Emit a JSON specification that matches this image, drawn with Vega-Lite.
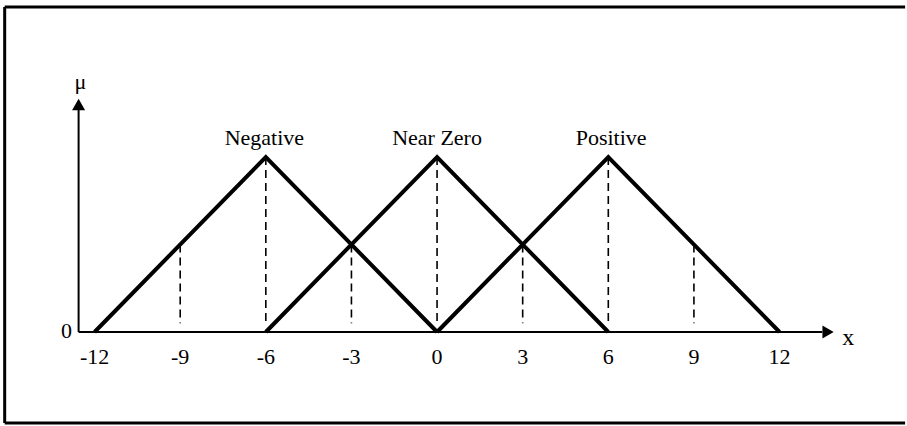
{
  "$schema": "https://vega.github.io/schema/vega-lite/v6.json",
  "width": 907,
  "height": 426,
  "autosize": {"type": "fit", "contains": "padding"},
  "padding": 0,
  "background": "white",
  "config": {"view": {"stroke": null}},
  "data": {"values": [{"item": "figure"}]},
  "datasets": {
    "sets": [
      {"set": "Negative", "x": -12, "mu": 0},
      {"set": "Negative", "x": -6, "mu": 1},
      {"set": "Negative", "x": 0, "mu": 0},
      {"set": "Near Zero", "x": -6, "mu": 0},
      {"set": "Near Zero", "x": 0, "mu": 1},
      {"set": "Near Zero", "x": 6, "mu": 0},
      {"set": "Positive", "x": 0, "mu": 0},
      {"set": "Positive", "x": 6, "mu": 1},
      {"set": "Positive", "x": 12, "mu": 0}
    ],
    "dashes": [
      {"x": -9, "mu": 0.5},
      {"x": -6, "mu": 1},
      {"x": -3, "mu": 0.5},
      {"x": 0, "mu": 1},
      {"x": 3, "mu": 0.5},
      {"x": 6, "mu": 1},
      {"x": 9, "mu": 0.5}
    ],
    "ticks": [
      {"x": -12, "label": "-12"},
      {"x": -9, "label": "-9"},
      {"x": -6, "label": "-6"},
      {"x": -3, "label": "-3"},
      {"x": 0, "label": "0"},
      {"x": 3, "label": "3"},
      {"x": 6, "label": "6"},
      {"x": 9, "label": "9"},
      {"x": 12, "label": "12"}
    ],
    "names": [
      {"x": -6.05, "name": "Negative"},
      {"x": 0, "name": "Near Zero"},
      {"x": 6.1, "name": "Positive"}
    ]
  },
  "layer": [
    {
      "mark": {"type": "rule", "color": "black", "strokeWidth": 3},
      "encoding": {
        "x": {"datum": -15.15, "type": "quantitative", "scale": {"domain": [-15.314, 16.326], "nice": false, "zero": false}, "axis": null},
        "y": {"datum": 1.857, "type": "quantitative", "scale": {"domain": [-0.537, 1.897], "nice": false, "zero": false}, "axis": null},
        "y2": {"datum": -0.52}
      }
    },
    {
      "mark": {"type": "rule", "color": "black", "strokeWidth": 3},
      "encoding": {
        "x": {"datum": -15.15, "type": "quantitative"},
        "x2": {"datum": 16.4},
        "y": {"datum": 1.857, "type": "quantitative"}
      }
    },
    {
      "mark": {"type": "rule", "color": "black", "strokeWidth": 3},
      "encoding": {
        "x": {"datum": -15.15, "type": "quantitative"},
        "x2": {"datum": 16.4},
        "y": {"datum": -0.52, "type": "quantitative"}
      }
    },
    {
      "mark": {"type": "rule", "color": "black", "strokeWidth": 2},
      "encoding": {
        "x": {"datum": -12.56, "type": "quantitative"},
        "x2": {"datum": 13.5},
        "y": {"datum": 0, "type": "quantitative"}
      }
    },
    {
      "mark": {"type": "rule", "color": "black", "strokeWidth": 2},
      "encoding": {
        "x": {"datum": -12.56, "type": "quantitative"},
        "y": {"datum": 0, "type": "quantitative"},
        "y2": {"datum": 1.28}
      }
    },
    {
      "mark": {"type": "point", "shape": "triangle-up", "filled": true, "color": "black", "size": 170, "opacity": 1},
      "encoding": {
        "x": {"datum": -12.56, "type": "quantitative"},
        "y": {"datum": 1.3, "type": "quantitative"}
      }
    },
    {
      "mark": {"type": "point", "shape": "triangle-right", "filled": true, "color": "black", "size": 170, "opacity": 1},
      "encoding": {
        "x": {"datum": 13.7, "type": "quantitative"},
        "y": {"datum": 0, "type": "quantitative"}
      }
    },
    {
      "data": {"name": "dashes"},
      "mark": {"type": "rule", "color": "black", "strokeWidth": 1.6, "strokeDash": [8, 5]},
      "encoding": {
        "x": {"field": "x", "type": "quantitative"},
        "y": {"field": "mu", "type": "quantitative"},
        "y2": {"datum": 0.05}
      }
    },
    {
      "data": {"name": "sets"},
      "mark": {"type": "line", "color": "black", "strokeWidth": 4, "strokeJoin": "miter", "strokeCap": "butt"},
      "encoding": {
        "x": {"field": "x", "type": "quantitative"},
        "y": {"field": "mu", "type": "quantitative"},
        "detail": {"field": "set"},
        "order": {"field": "x"}
      }
    },
    {
      "data": {"name": "ticks"},
      "mark": {"type": "text", "font": "Liberation Serif", "fontSize": 22, "color": "black", "align": "center", "baseline": "alphabetic"},
      "encoding": {
        "x": {"field": "x", "type": "quantitative"},
        "y": {"datum": -0.183, "type": "quantitative"},
        "text": {"field": "label"}
      }
    },
    {
      "data": {"name": "names"},
      "mark": {"type": "text", "font": "Liberation Serif", "fontSize": 22, "color": "black", "align": "center", "baseline": "alphabetic"},
      "encoding": {
        "x": {"field": "x", "type": "quantitative"},
        "y": {"datum": 1.069, "type": "quantitative"},
        "text": {"field": "name"}
      }
    },
    {
      "mark": {"type": "text", "font": "Liberation Serif", "fontSize": 22, "color": "black", "align": "center", "baseline": "alphabetic"},
      "encoding": {
        "x": {"datum": -12.98, "type": "quantitative"},
        "y": {"datum": -0.034, "type": "quantitative"},
        "text": {"value": "0"}
      }
    },
    {
      "mark": {"type": "text", "font": "Liberation Serif", "fontSize": 22, "color": "black", "align": "center", "baseline": "alphabetic"},
      "encoding": {
        "x": {"datum": -12.5, "type": "quantitative"},
        "y": {"datum": 1.39, "type": "quantitative"},
        "text": {"value": "μ"}
      }
    },
    {
      "mark": {"type": "text", "font": "Liberation Serif", "fontSize": 24, "color": "black", "align": "center", "baseline": "alphabetic"},
      "encoding": {
        "x": {"datum": 14.41, "type": "quantitative"},
        "y": {"datum": -0.074, "type": "quantitative"},
        "text": {"value": "x"}
      }
    }
  ]
}
